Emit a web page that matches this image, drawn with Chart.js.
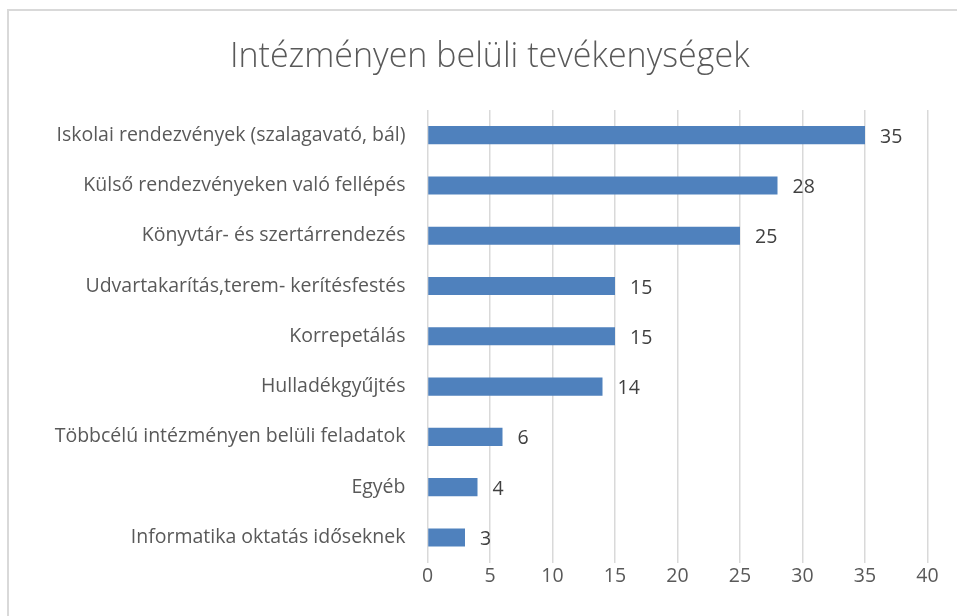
<!DOCTYPE html>
<html>
<head>
<meta charset="utf-8">
<script src="https://cdn.jsdelivr.net/npm/chart.js@4/dist/chart.umd.min.js"></script>
<style>
  html, body { margin: 0; padding: 0; background: #fff; overflow: hidden; }
  #wrap { position: relative; width: 957px; height: 616px; }
  #frame { position: absolute; left: 7px; top: 9px; width: 980px; height: 640px; border: 2px solid #d9d9d9; box-sizing: border-box; pointer-events: none; }
  canvas { position: absolute; left: 0; top: 0; }
</style>
</head>
<body>
<div id="wrap">
  <canvas id="c" width="957" height="616"></canvas>
  <div id="frame"></div>
</div>
<script>
const chartTitle = "Intézményen belüli tevékenységek";
const categories = [
  "Iskolai rendezvények (szalagavató, bál)",
  "Külső rendezvényeken való fellépés",
  "Könyvtár- és szertárrendezés",
  "Udvartakarítás,terem- kerítésfestés",
  "Korrepetálás",
  "Hulladékgyűjtés",
  "Többcélú intézményen belüli feladatok",
  "Egyéb",
  "Informatika oktatás időseknek"
];
const values = [35, 28, 25, 15, 15, 14, 6, 4, 3];
const xTicks = [0, 5, 10, 15, 20, 25, 30, 35, 40];

const FONT = "'Open Sans', 'Noto Sans', sans-serif";

const valueLabels = {
  id: 'valueLabels',
  afterDatasetsDraw(chart) {
    const ctx = chart.ctx;
    const meta = chart.getDatasetMeta(0);
    ctx.save();
    ctx.font = "19.5px " + FONT;
    ctx.fillStyle = "#404040";
    ctx.textAlign = "left";
    ctx.textBaseline = "middle";
    meta.data.forEach((bar, i) => {
      ctx.fillText(String(values[i]), bar.x + 15, bar.y + 2);
    });
    ctx.restore();
  }
};

new Chart(document.getElementById('c'), {
  type: 'bar',
  data: {
    labels: categories,
    datasets: [{
      data: values,
      backgroundColor: '#4F81BD',
      borderWidth: 0,
      barPercentage: 0.36,
      categoryPercentage: 1.0
    }]
  },
  options: {
    indexAxis: 'y',
    responsive: false,
    animation: false,
    devicePixelRatio: 1,
    layout: { padding: { left: 52, right: 29.5, top: 10, bottom: 26 } },
    plugins: {
      legend: { display: false },
      tooltip: { enabled: false },
      title: {
        display: true,
        text: chartTitle,
        color: '#595959',
        font: { family: FONT, size: 34, weight: '300' },
        padding: { top: 26.6, bottom: 32.6 }
      }
    },
    scales: {
      x: {
        min: 0, max: 40,
        afterBuildTicks(axis) { axis.ticks = xTicks.map(v => ({ value: v })); },
        grid: { color: '#d9d9d9', lineWidth: 1.5, drawTicks: false },
        border: { display: false },
        ticks: { color: '#595959', font: { family: FONT, size: 19.5 }, padding: 2 }
      },
      y: {
        grid: { display: false, drawTicks: false },
        border: { display: false },
        afterFit(axis) { axis.width = 375.5; },
        ticks: { color: '#595959', font: { family: FONT, size: 19.5 }, padding: 22 }
      }
    }
  },
  plugins: [valueLabels]
});
</script>
</body>
</html>
